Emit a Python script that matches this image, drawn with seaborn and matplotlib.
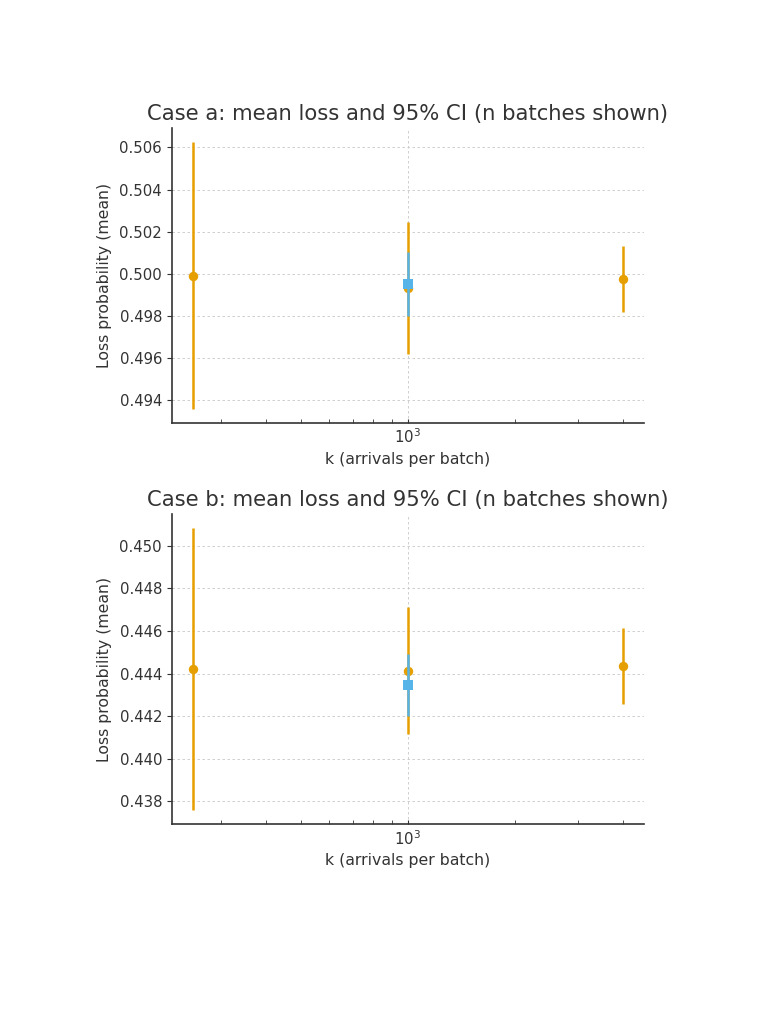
import numpy as np
import pandas as pd
import matplotlib
matplotlib.use("Agg")
import matplotlib.pyplot as plt
import seaborn as sns

# ---- data ----
k_values = [250, 1000, 4000]

# Case a
a_mean = [0.49992, 0.49932, 0.49974]
a_half = [0.00635, 0.00314, 0.00157]
a_blue_k = [1000]
a_blue_mean = [0.49951]
a_blue_half = [0.00153]

# Case b
b_mean = [0.44420, 0.44414, 0.44435]
b_half = [0.00662, 0.00298, 0.00178]
b_blue_k = [1000]
b_blue_mean = [0.44348]
b_blue_half = [0.00145]

titles = ["Case a: mean loss and 95% CI (n batches shown)",
          "Case b: mean loss and 95% CI (n batches shown)"]
xlabel = "k (arrivals per batch)"
ylabel = "Loss probability (mean)"

ORANGE = "#E69F00"
BLUE = "#56B4E9"
TEXT = "#333333"

sns.set_style("ticks")
plt.rcParams["font.family"] = ["DejaVu Sans"]

fig = plt.figure(figsize=(7.68, 10.24), dpi=100)
ax_a = fig.add_axes([0.2236, 0.5872, 0.615, 0.2875])
ax_b = fig.add_axes([0.2236, 0.195, 0.615, 0.3027])

panels = [
    (ax_a, a_mean, a_half, a_blue_k, a_blue_mean, a_blue_half, titles[0]),
    (ax_b, b_mean, b_half, b_blue_k, b_blue_mean, b_blue_half, titles[1]),
]

for ax, mean, half, bk, bmean, bhalf, title in panels:
    df = pd.DataFrame({"k": k_values, "mean": mean, "half": half})
    dfb = pd.DataFrame({"k": bk, "mean": bmean, "half": bhalf})
    ax.set_xscale("log")
    ax.errorbar(df["k"], df["mean"], yerr=df["half"], fmt="none",
                ecolor=ORANGE, elinewidth=1.8, capsize=0, zorder=3)
    sns.scatterplot(data=df, x="k", y="mean", ax=ax, color=ORANGE,
                    marker="o", s=46, edgecolor=ORANGE, linewidth=0, zorder=4)
    ax.errorbar(dfb["k"], dfb["mean"], yerr=dfb["half"], fmt="none",
                ecolor=BLUE, elinewidth=1.8, capsize=0, zorder=5)
    sns.scatterplot(data=dfb, x="k", y="mean", ax=ax, color=BLUE,
                    marker="s", s=42, edgecolor=BLUE, linewidth=0, zorder=6)

    # log-space 5% margins derived from the data
    lo, hi = np.log10(min(k_values)), np.log10(max(k_values))
    m = 0.05 * (hi - lo)
    ax.set_xlim(10 ** (lo - m), 10 ** (hi + m))

    ax.set_title(title, fontsize=15.2, color=TEXT, pad=6)
    ax.set_xlabel(xlabel, fontsize=11.3, color=TEXT)
    ax.set_ylabel(ylabel, fontsize=11.3, color=TEXT, labelpad=5)
    ax.yaxis.set_major_formatter(matplotlib.ticker.FormatStrFormatter("%.3f"))
    ax.yaxis.set_major_locator(matplotlib.ticker.MultipleLocator(0.002))
    ax.tick_params(axis="both", labelsize=10.7, labelcolor=TEXT, color=TEXT)
    ax.tick_params(axis="x", which="minor", direction="in", length=3, color=TEXT)
    ax.tick_params(axis="x", which="major", direction="in", length=3)
    ax.grid(True, which="major", linestyle=(0, (3, 3)), linewidth=0.6, color="#c8c8c8")
    for s in ["top", "right"]:
        ax.spines[s].set_visible(False)
    for s in ["left", "bottom"]:
        ax.spines[s].set_color(TEXT)
        ax.spines[s].set_linewidth(1.2)

fig.savefig("out.png", dpi=100)
